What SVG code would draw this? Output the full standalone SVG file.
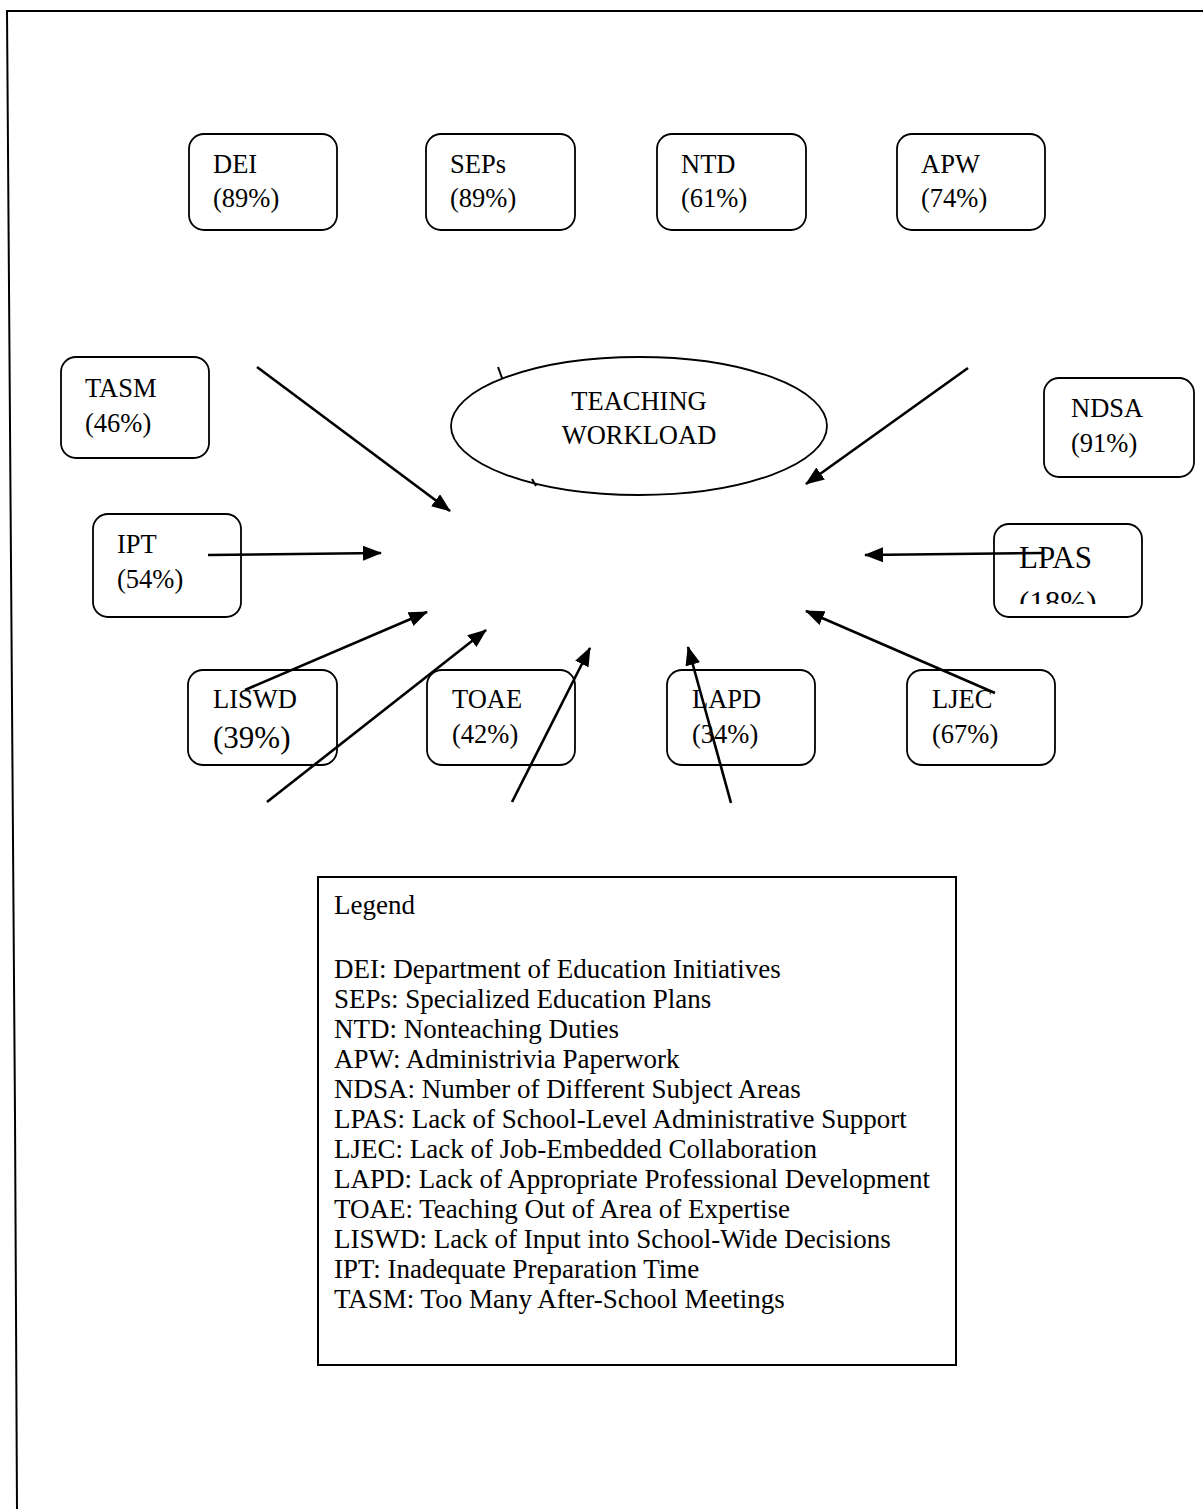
<svg xmlns="http://www.w3.org/2000/svg" width="1203" height="1509" viewBox="0 0 1203 1509">
<style>
.box{fill:#fff;stroke:#000;stroke-width:1.8}
.t{font-family:"Liberation Serif","Times New Roman",serif;font-size:26.5px;fill:#000}
.lg{font-family:"Liberation Serif","Times New Roman",serif;font-size:27px;fill:#000}
.ar{stroke:#000;stroke-width:2.6;fill:none;marker-end:url(#ah)}
</style>
<defs>
<marker id="ah" markerUnits="userSpaceOnUse" markerWidth="20" markerHeight="16" refX="18" refY="7.5" orient="auto">
<path d="M0,0 L19,7.5 L0,15 z" fill="#000"/>
</marker>
<clipPath id="lpasclip"><rect x="994" y="524" width="148" height="80"/></clipPath>
</defs>
<rect width="1203" height="1509" fill="#fff"/>
<g id="frame">
<polyline points="1203,11 7,11 15,1116 17,1509" fill="none" stroke="#000" stroke-width="2"/>
</g>
<g id="center">
<ellipse cx="639" cy="426" rx="188" ry="69" fill="none" stroke="#000" stroke-width="1.8"/>
<line x1="498" y1="367" x2="502" y2="378" stroke="#000" stroke-width="2"/>
<line x1="532" y1="479" x2="536" y2="486" stroke="#000" stroke-width="2"/>
<text class="t" x="639" y="410" text-anchor="middle">TEACHING</text>
<text class="t" x="639" y="444" text-anchor="middle">WORKLOAD</text>
</g>
<g id="DEI"><rect class="box" x="189" y="134" width="148" height="96" rx="15"/><text class="t" x="213" y="173">DEI</text><text class="t" x="213" y="207">(89%)</text></g>
<g id="SEPs"><rect class="box" x="426" y="134" width="149" height="96" rx="15"/><text class="t" x="450" y="173">SEPs</text><text class="t" x="450" y="207">(89%)</text></g>
<g id="NTD"><rect class="box" x="657" y="134" width="149" height="96" rx="15"/><text class="t" x="681" y="173">NTD</text><text class="t" x="681" y="207">(61%)</text></g>
<g id="APW"><rect class="box" x="897" y="134" width="148" height="96" rx="15"/><text class="t" x="921" y="173">APW</text><text class="t" x="921" y="207">(74%)</text></g>
<g id="TASM"><rect class="box" x="61" y="357" width="148" height="101" rx="15"/><text class="t" x="85" y="397">TASM</text><text class="t" x="85" y="432">(46%)</text></g>
<g id="NDSA"><rect class="box" x="1044" y="378" width="150" height="99" rx="15"/><text class="t" x="1071" y="417">NDSA</text><text class="t" x="1071" y="452">(91%)</text></g>
<g id="IPT"><rect class="box" x="93" y="514" width="148" height="103" rx="15"/><text class="t" x="117" y="553">IPT</text><text class="t" x="117" y="588">(54%)</text></g>
<g id="LPAS"><rect class="box" x="994" y="524" width="148" height="93" rx="15"/><g clip-path="url(#lpasclip)"><text class="t" x="1019" y="568" style="font-size:31px">LPAS</text><text class="t" x="1019" y="613" style="font-size:31px">(18%)</text></g></g>
<g id="LISWD"><rect class="box" x="188" y="670" width="149" height="95" rx="15"/><text class="t" x="213" y="708">LISWD</text><text class="t" x="213" y="748" style="font-size:31px">(39%)</text></g>
<g id="TOAE"><rect class="box" x="427" y="670" width="148" height="95" rx="15"/><text class="t" x="452" y="708">TOAE</text><text class="t" x="452" y="743">(42%)</text></g>
<g id="LAPD"><rect class="box" x="667" y="670" width="148" height="95" rx="15"/><text class="t" x="692" y="708">LAPD</text><text class="t" x="692" y="743">(34%)</text></g>
<g id="LJEC"><rect class="box" x="907" y="670" width="148" height="95" rx="15"/><text class="t" x="932" y="708">LJEC</text><text class="t" x="932" y="743">(67%)</text></g>
<g id="connectors">
<line class="ar" x1="257" y1="367" x2="450" y2="511"/>
<line class="ar" x1="968" y1="368" x2="806" y2="484"/>
<line class="ar" x1="208" y1="555" x2="381" y2="553"/>
<line class="ar" x1="1043" y1="553" x2="865" y2="555"/>
<line class="ar" x1="245" y1="690" x2="427" y2="612"/>
<line class="ar" x1="267" y1="802" x2="486" y2="630"/>
<line class="ar" x1="512" y1="802" x2="590" y2="648"/>
<line class="ar" x1="731" y1="803" x2="688" y2="647"/>
<line class="ar" x1="995" y1="693" x2="806" y2="611"/>
</g>
<g id="legend">
<rect x="318" y="877" width="638" height="488" fill="none" stroke="#000" stroke-width="2"/>
<text class="lg" x="334" y="914">Legend</text>
<text class="lg" x="334" y="978">DEI: Department of Education Initiatives</text>
<text class="lg" x="334" y="1008">SEPs: Specialized Education Plans</text>
<text class="lg" x="334" y="1038">NTD: Nonteaching Duties</text>
<text class="lg" x="334" y="1068">APW: Administrivia Paperwork</text>
<text class="lg" x="334" y="1098">NDSA: Number of Different Subject Areas</text>
<text class="lg" x="334" y="1128">LPAS: Lack of School-Level Administrative Support</text>
<text class="lg" x="334" y="1158">LJEC: Lack of Job-Embedded Collaboration</text>
<text class="lg" x="334" y="1188">LAPD: Lack of Appropriate Professional Development</text>
<text class="lg" x="334" y="1218">TOAE: Teaching Out of Area of Expertise</text>
<text class="lg" x="334" y="1248">LISWD: Lack of Input into School-Wide Decisions</text>
<text class="lg" x="334" y="1278">IPT: Inadequate Preparation Time</text>
<text class="lg" x="334" y="1308">TASM: Too Many After-School Meetings</text>
</g>
</svg>
